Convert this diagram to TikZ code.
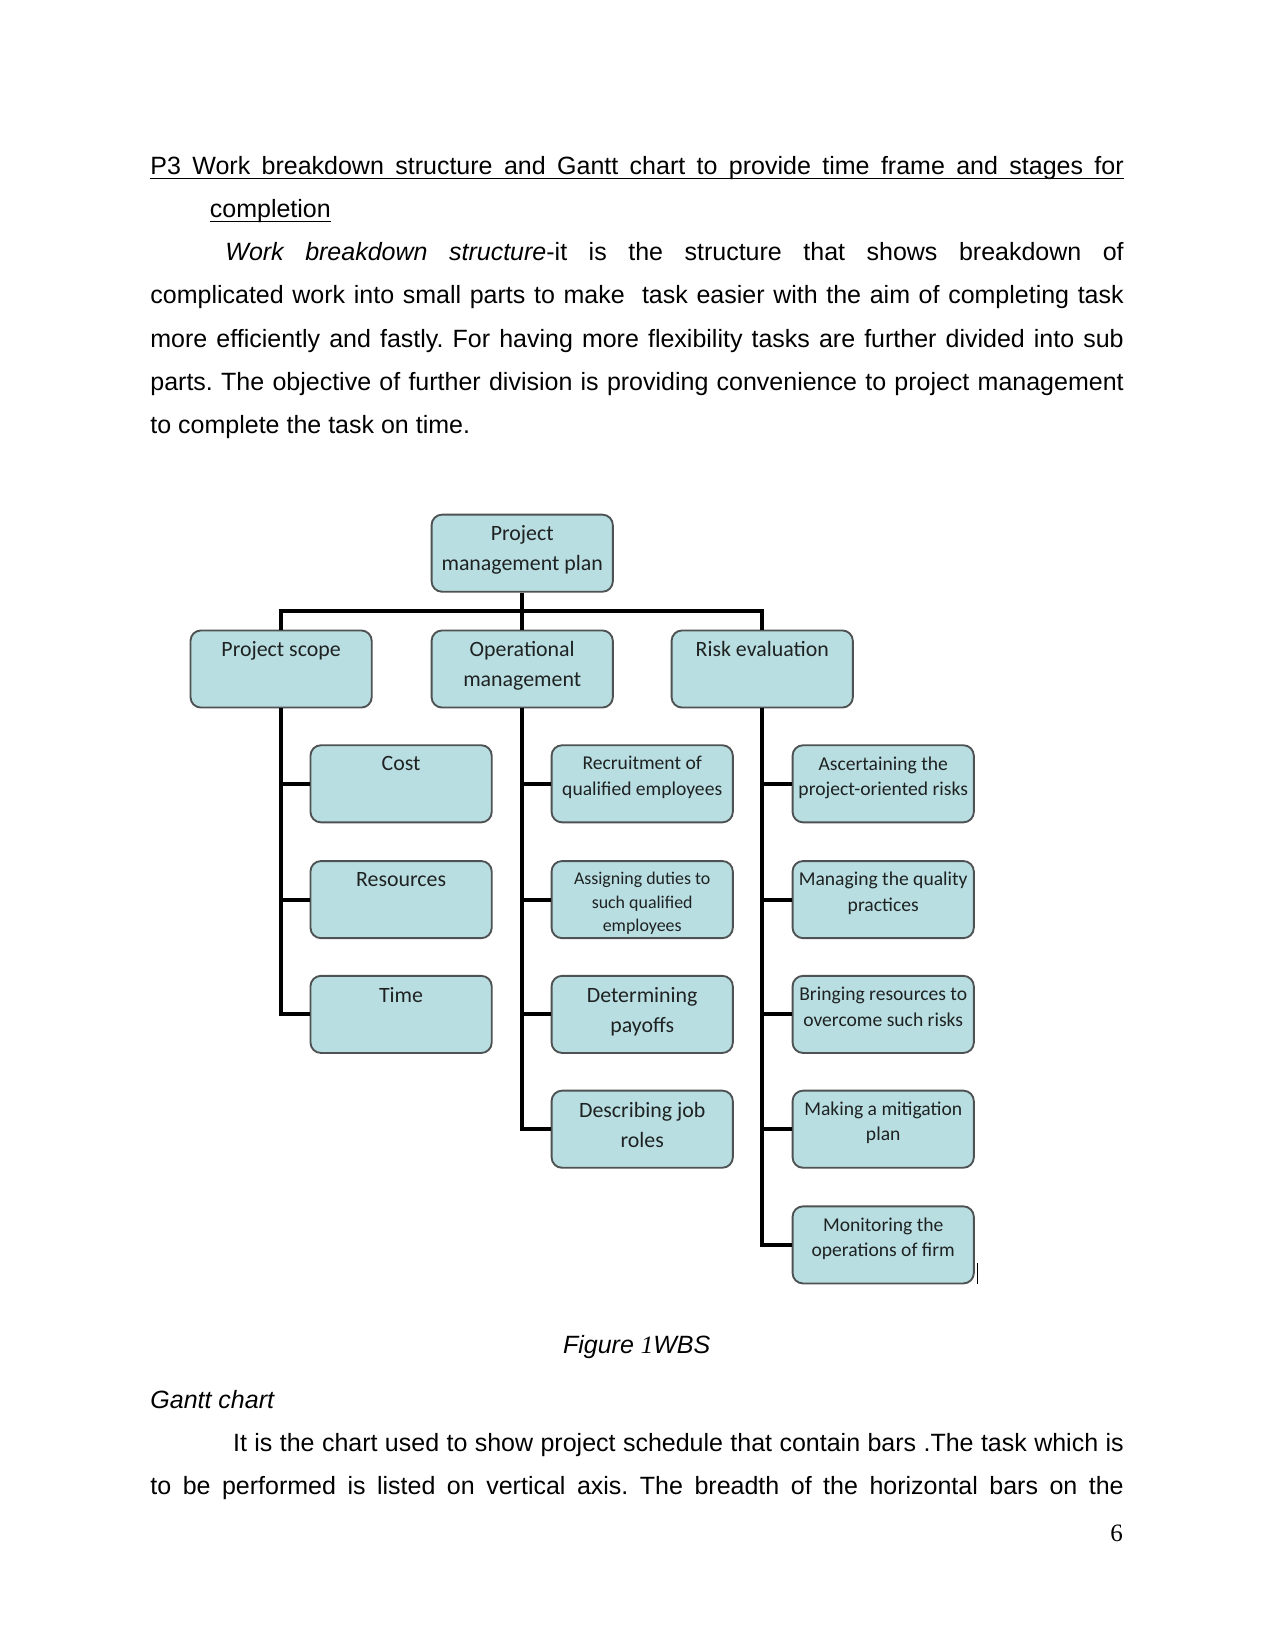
\documentclass[tikz,border=0pt]{standalone}
\usepackage{fontspec}
\setmainfont{Liberation Sans}
\newfontfamily\calib{Carlito}
\newfontfamily\timesf{Liberation Serif}
\usepackage{tikz}
\usetikzlibrary{calc}
\definecolor{boxfill}{HTML}{B9DEE1}
\definecolor{boxline}{HTML}{4E5253}
\definecolor{ink}{HTML}{1E2222}
\newcommand\fbig{\calib\fontsize{10.5pt}{14.4pt}\selectfont}
\newcommand\fmid{\calib\fontsize{9.4pt}{12.2pt}\selectfont}
\newcommand\fsml{\calib\fontsize{8.6pt}{11.2pt}\selectfont}
\frenchspacing

\begin{document}
\begin{tikzpicture}[x=0.48pt,y=-0.48pt,
  body/.style={inner sep=0pt,font=\fontsize{12pt}{14pt}\selectfont},
  uline/.style={line width=0.6pt},
  wbs/.style={draw=boxline,fill=boxfill,line width=0.9pt,rounded corners=5pt,inner sep=0pt,text=ink,
    execute at begin node={\begin{minipage}[c][37pt][t]{87pt}\centering\vspace*{5.4pt}},
    execute at end node={\end{minipage}}},
  link/.style={line width=2pt,black,line join=miter}]
  \fill[white] (0,0) rectangle (1275,1651);
  \useasboundingbox (0,0) rectangle (1275,1651);

  % text above the figure
  \node[body,anchor=base west] (hd1) at (150,174.5){\makebox[467.2pt][s]{P3 Work breakdown structure and Gantt chart to provide time frame and stages for}};
  \node[body,anchor=base west] (hd2) at (209.5,217.7){completion};
  \draw[uline] ([yshift=-2pt]hd1.base west) -- ([yshift=-2pt]hd1.base east);
  \draw[uline] ([yshift=-2pt]hd2.base west) -- ([yshift=-2pt]hd2.base east);
  \node[body,anchor=base west] (p1) at (225,260.8){\makebox[431.2pt][s]{\textit{Work breakdown structure}-it is the structure that shows breakdown of}};
  \node[body,anchor=base west] (p2) at (150,304.0){\makebox[467.2pt][s]{complicated work into small parts to make\ \ task easier with the aim of completing task}};
  \node[body,anchor=base west] (p3) at (150,347.2){\makebox[467.2pt][s]{more efficiently and fastly. For having more flexibility tasks are further divided into sub}};
  \node[body,anchor=base west] (p4) at (150,390.4){\makebox[467.2pt][s]{parts. The objective of further division is providing convenience to project management}};
  \node[body,anchor=base west] (p5) at (150,433.5){to complete the task on time.};

  % WBS
  \node[wbs,font=\fbig] (pmp) at (522.2,553.2){Project\\management plan};
  \node[wbs,font=\fbig] (scope) at (281.1,669){Project scope};
  \node[wbs,font=\fbig] (ops) at (522.2,669){Operational\\management};
  \node[wbs,font=\fbig] (risk) at (762.2,669){Risk evaluation};
  \coordinate (bar) at (522.2,610.6);
  \draw[link] (pmp.south) -- (ops.north);
  \draw[link] (scope.north) |- (bar) -| (risk.north);
  \foreach \nm/\x/\y/\fs/\txt in {
      cost/401.1/783.8/\fbig/{Cost}, res/401.1/899.6/\fbig/{Resources}, time/401.1/1014.4/\fbig/{Time},
      recr/642.2/783.8/\fmid/{Recruitment of\\qualified employees},
      assign/642.2/899.6/\fsml/{Assigning duties to\\such qualified\\employees},
      payoff/642.2/1014.4/\fbig/{Determining\\payoffs}, roles/642.2/1129.2/\fbig/{Describing job\\roles},
      ascert/883.2/783.8/\fmid/{Ascertaining the\\project-oriented risks},
      quality/883.2/899.6/\fmid/{Managing the quality\\practices},
      bring/883.2/1014.4/\fmid/{Bringing resources to\\overcome such risks},
      mitig/883.2/1129.2/\fmid/{Making a mitigation\\plan},
      monit/883.2/1244.9/\fmid/{Monitoring the\\operations of firm}}{
    \node[wbs,font=\fs] (\nm) at (\x,\y){\txt};
  }
  \foreach \p/\c in {scope/cost,scope/res,scope/time,ops/recr,ops/assign,ops/payoff,ops/roles,
      risk/ascert,risk/quality,risk/bring,risk/mitig,risk/monit}
    \draw[link] (\p.south) |- (\c.west);
  \draw[line width=0.7pt] ([xshift=1.2pt]monit.south east) -- ++(0,-21);

  % caption and text below
  \node[body,anchor=base] (cap) at (636.7,1353.2){\itshape Figure {\timesf 1}WBS};
  \node[body,anchor=base west] (gantt) at (150,1408.6){\itshape Gantt chart};
  \node[body,anchor=base west] (q1) at (232.7,1451.7){\makebox[427.5pt][s]{It is the chart used to show project schedule that contain bars .The task which is}};
  \node[body,anchor=base west] (q2) at (150,1494.9){\makebox[467.2pt][s]{to be performed is listed on vertical axis. The breadth of the horizontal bars on the}};
  \node[body,anchor=base east,font=\timesf\fontsize{12pt}{14pt}\selectfont] (pg) at (1123.3,1541){6};
\end{tikzpicture}
\end{document}
